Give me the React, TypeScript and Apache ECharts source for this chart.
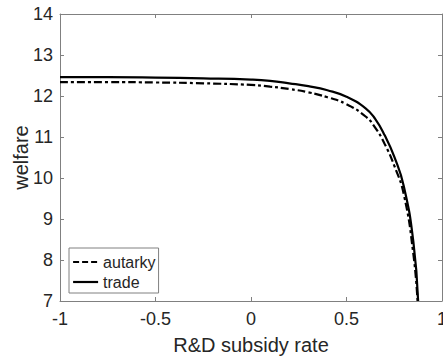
import React, { useEffect, useRef } from "react";
import * as echarts from "echarts";

const tradeX = [-1, -0.75, -0.5, -0.25, 0, 0.1, 0.2, 0.3, 0.4, 0.5, 0.6, 0.65, 0.7, 0.75, 0.8, 0.85, 0.875];
const tradeY = [12.46, 12.46, 12.45, 12.43, 12.4, 12.37, 12.31, 12.24, 12.14, 11.98, 11.7, 11.44, 11.04, 10.52, 9.8, 8.45, 7.0];
const autX = [-1, -0.75, -0.5, -0.25, 0, 0.1, 0.2, 0.3, 0.4, 0.5, 0.6, 0.65, 0.7, 0.75, 0.8, 0.85, 0.872];
const autY = [12.34, 12.34, 12.33, 12.31, 12.27, 12.23, 12.17, 12.09, 11.97, 11.8, 11.5, 11.23, 10.83, 10.3, 9.6, 8.15, 7.0];
const xTicks = [-1, -0.5, 0, 0.5, 1];
const yTicks = [7, 8, 9, 10, 11, 12, 13, 14];

const FONT = "'Liberation Sans', Arial, Helvetica, sans-serif";
const TXT = "#262626";
const AX = "#808080";

export default function App() {
  const ref = useRef<HTMLDivElement>(null);
  useEffect(() => {
    if (!ref.current) return;
    const chart = echarts.init(ref.current, undefined, { renderer: "svg" });
    const axisCommon = {
      axisLine: { show: true, onZero: false, lineStyle: { color: AX, width: 1 } },
      axisTick: { show: true, inside: true, length: 4, lineStyle: { color: AX } },
      splitLine: { show: false },
    };
    chart.setOption({
      animation: false,
      backgroundColor: "#fff",
      grid: { left: 60, right: 1, top: 14, bottom: 59, outerBoundsMode: "none" },
      xAxis: [
        {
          type: "value",
          min: xTicks[0],
          max: xTicks[xTicks.length - 1],
          interval: 0.5,
          position: "bottom",
          ...axisCommon,
          axisLabel: {
            color: TXT,
            fontSize: 18,
            fontFamily: FONT,
            margin: 9,
            alignMaxLabel: "center",
            alignMinLabel: "center",
            formatter: (v: number) => String(v),
          },
          name: "R&D subsidy rate",
          nameLocation: "middle",
          nameGap: 34,
          nameMoveOverlap: false,
          nameTextStyle: { color: TXT, fontSize: 20, fontFamily: FONT },
        },
        {
          type: "value",
          min: xTicks[0],
          max: xTicks[xTicks.length - 1],
          interval: 0.5,
          position: "top",
          ...axisCommon,
          axisLabel: { show: false },
        },
      ],
      yAxis: [
        {
          type: "value",
          min: yTicks[0],
          max: yTicks[yTicks.length - 1],
          interval: 1,
          position: "left",
          ...axisCommon,
          axisLabel: { color: TXT, fontSize: 18, fontFamily: FONT, margin: 7 },
          name: "welfare",
          nameLocation: "middle",
          nameGap: 29,
          nameMoveOverlap: false,
          nameTextStyle: { color: TXT, fontSize: 20, fontFamily: FONT },
        },
        {
          type: "value",
          min: yTicks[0],
          max: yTicks[yTicks.length - 1],
          interval: 1,
          position: "right",
          ...axisCommon,
          axisLabel: { show: false },
        },
      ],
      legend: {
        orient: "vertical",
        left: 69,
        top: 248,
        padding: [6, 3, 3, 3],
        itemWidth: 25,
        itemHeight: 14,
        itemGap: 4,
        borderColor: AX,
        borderWidth: 1,
        borderRadius: 0,
        backgroundColor: "#fff",
        textStyle: { color: TXT, fontSize: 16, fontFamily: FONT },
        data: [
          {
            name: "autarky",
            itemStyle: { opacity: 0 },
            lineStyle: { type: [6, 3], width: 2.2, color: "#000" },
          },
          {
            name: "trade",
            itemStyle: { opacity: 0 },
            lineStyle: { type: "solid", width: 2.2, color: "#000" },
          },
        ],
      },
      series: [
        {
          name: "autarky",
          type: "line",
          data: autX.map((x, i) => [x, autY[i]]),
          smooth: 0.5,
          symbol: "none",
          clip: true,
          lineStyle: { color: "#000", width: 2.2, type: [8, 3, 3, 3] },
          itemStyle: { color: "#000" },
        },
        {
          name: "trade",
          type: "line",
          data: tradeX.map((x, i) => [x, tradeY[i]]),
          smooth: 0.5,
          symbol: "none",
          clip: true,
          lineStyle: { color: "#000", width: 2.2, type: "solid" },
          itemStyle: { color: "#000" },
        },
      ],
    });
    return () => chart.dispose();
  }, []);
  return (
    <div
      ref={ref}
      style={{ position: "fixed", left: 0, top: 0, width: 443, height: 360 }}
    />
  );
}
